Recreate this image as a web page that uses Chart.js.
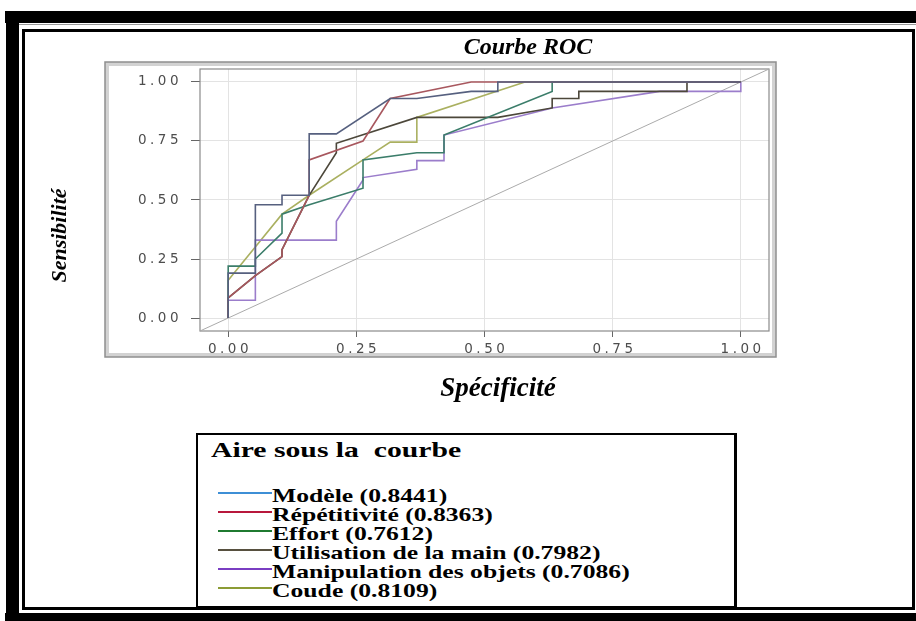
<!DOCTYPE html>
<html lang="fr">
<head>
<meta charset="utf-8">
<title>Courbe ROC</title>
<script src="https://cdn.jsdelivr.net/npm/chart.js@4.4.1/dist/chart.umd.min.js"></script>
<style>
  html, body { margin: 0; padding: 0; background: #fff; width: 916px; height: 621px; overflow: hidden; }
  .band { position: absolute; background: #000; }
  #inner { position: absolute; left: 22px; top: 29px; width: 887px; height: 575px; border: 3px solid #000; }
  #chartBox { position: absolute; left: 26px; top: 32px; width: 760px; height: 379px; }
  #legend { position: absolute; left: 196px; top: 433px; width: 536px; height: 171px;
            border: 2px solid #000; border-right-width: 3px; background: #fff; }
  #legendTitle { position: absolute; left: 211px; top: 438px; font: bold 22px/24px 'Liberation Serif', serif;
                 white-space: pre; transform: scaleX(1.35); transform-origin: 0 0; }
  #legendRows { position: absolute; left: 218px; top: 486px; font: bold 19px/19px 'Liberation Serif', serif;
                white-space: nowrap; transform: scaleX(1.35); transform-origin: 0 0; }
  .swatch { display: inline-block; width: 40px; height: 2px; vertical-align: 8px; }
</style>
</head>
<body>
<div class="band" style="left:5px;top:11px;width:911px;height:12px"></div>
<div class="band" style="left:6px;top:11px;width:13px;height:610px"></div>
<div class="band" style="left:5px;top:613px;width:911px;height:8px"></div>
<div class="band" style="left:19px;top:24px;width:897px;height:1px;background:#999"></div>
<div id="inner"></div>

<div id="chartBox"><canvas id="roc" width="760" height="379"></canvas></div>

<div id="legend"></div>
<div id="legendTitle">Aire sous la  courbe</div>
<div id="legendRows"></div>

<script>
// valeurs
const seriesNames = ['Modèle', 'Répétitivité', 'Effort', 'Utilisation de la main', 'Manipulation des objets', 'Coude'];
const aucValues = [0.8441, 0.8363, 0.7612, 0.7982, 0.7086, 0.8109];
const tickValues = [0, 0.25, 0.5, 0.75, 1];
const axisMin = -0.055;
const axisMax = 1.055;

// points (1 - specificite, sensibilite) de chaque courbe
const modeleX = [0, 0, 0.053, 0.053, 0.105, 0.105, 0.158, 0.158, 0.211, 0.316, 0.368, 0.474, 0.526, 0.526, 1];
const modeleY = [0, 0.19, 0.19, 0.48, 0.48, 0.52, 0.52, 0.78, 0.78, 0.93, 0.93, 0.96, 0.96, 1, 1];

const repetX = [0, 0, 0.053, 0.105, 0.105, 0.158, 0.158, 0.263, 0.316, 0.474, 1];
const repetY = [0, 0.085, 0.18, 0.26, 0.29, 0.52, 0.67, 0.75, 0.93, 1, 1];

const effortX = [0, 0, 0.053, 0.053, 0.105, 0.105, 0.158, 0.263, 0.263, 0.368, 0.421, 0.421, 0.632, 0.632, 1];
const effortY = [0, 0.22, 0.22, 0.25, 0.36, 0.44, 0.48, 0.55, 0.67, 0.70, 0.70, 0.775, 0.96, 1, 1];

const mainX = [0, 0, 0.053, 0.105, 0.105, 0.158, 0.211, 0.211, 0.368, 0.526, 0.632, 0.632, 0.684, 0.684, 0.895, 0.895, 1];
const mainY = [0, 0.085, 0.18, 0.26, 0.29, 0.52, 0.70, 0.74, 0.85, 0.85, 0.89, 0.93, 0.93, 0.96, 0.96, 1, 1];

const objetsX = [0, 0, 0.053, 0.053, 0.211, 0.211, 0.263, 0.263, 0.368, 0.368, 0.421, 0.421, 0.632, 0.842, 1, 1];
const objetsY = [0, 0.075, 0.075, 0.33, 0.33, 0.41, 0.585, 0.595, 0.63, 0.667, 0.667, 0.775, 0.89, 0.96, 0.96, 1];

const coudeX = [0, 0, 0.105, 0.158, 0.263, 0.316, 0.368, 0.368, 0.579, 1];
const coudeY = [0, 0.16, 0.44, 0.52, 0.67, 0.745, 0.745, 0.85, 1, 1];

const curvesX = [modeleX, repetX, effortX, mainX, objetsX, coudeX];
const curvesY = [modeleY, repetY, effortY, mainY, objetsY, coudeY];

// couleurs : legende et traces (les traces sont plus ternes sur la figure)
const legendColors = ['#3e8fd6', '#b8183c', '#1f7a30', '#57503f', '#7a3ec2', '#8c9c35'];
const lineColors = ['#56607f', '#a8575e', '#3b7d6a', '#4c473a', '#9b7dcb', '#aab060'];

// position des titres dans le canvas
const TITLE_CX = 502;
const XTITLE_DX = 13.5;
const YTITLE_DY = 35.5;

const datasets = seriesNames.map(function(name, i) {
    return {
        label: name + ' (' + aucValues[i].toFixed(4) + ')',
        data: curvesX[i].map((x, k) => ({ x: x, y: curvesY[i][k] })),
        borderColor: lineColors[i],
        borderWidth: 1.6,
        pointRadius: 0,
        tension: 0,
        fill: false,
        clip: false,
        order: i
    };
});

// diagonale de reference
datasets.push({
    label: 'diagonale',
    data: [{ x: axisMin, y: axisMin }, { x: axisMax, y: axisMax }],
    borderColor: '#ababab',
    borderWidth: 1,
    pointRadius: 0,
    fill: false,
    clip: false,
    order: 10
});

// cadre gris autour du graphique (image R)
const panelPlugin = {
    id: 'panel',
    beforeDraw(chart) {
        const { ctx, chartArea: a } = chart;
        const l = a.left - 95, t = a.top - 7, r = a.right + 7, b = a.bottom + 26;
        ctx.save();
        ctx.fillStyle = '#fff';
        ctx.fillRect(l, t, r - l, b - t);
        ctx.strokeStyle = '#d2d2d2';
        ctx.lineWidth = 4;
        ctx.strokeRect(l + 2, t + 2, r - l - 4, b - t - 4);
        ctx.strokeStyle = '#8f8f8f';
        ctx.lineWidth = 1.5;
        ctx.strokeRect(l, t, r - l, b - t);
        ctx.restore();
    },
    beforeDatasetsDraw(chart) {
        const { ctx, chartArea: a } = chart;
        ctx.save();
        ctx.strokeStyle = '#8a8a8a';
        ctx.lineWidth = 1.2;
        ctx.strokeRect(a.left, a.top, a.right - a.left, a.bottom - a.top);
        ctx.restore();
    }
};

// graduations espacees comme sur la figure etiree
const spacingPlugin = {
    id: 'tickSpacing',
    afterDatasetsDraw(chart) { chart.ctx.letterSpacing = '3.5px'; },
    afterDraw(chart) { chart.ctx.letterSpacing = '0px'; }
};

// decale les titres a leur place
const nudgePlugin = {
    id: 'nudge',
    afterLayout(chart) {
        const tb = chart.titleBlock;
        if (tb) {
            const dx = TITLE_CX - (tb.left + tb.right) / 2;
            tb.left += dx;
            tb.right += dx;
        }
        chart.scales.x.left += XTITLE_DX;
        chart.scales.x.right += XTITLE_DX;
        chart.scales.y.top += YTITLE_DY;
        chart.scales.y.bottom += YTITLE_DY;
    }
};

const tickFont = { family: 'DejaVu Sans', size: 13.5 };
const titleFont = (size) => ({ family: 'Liberation Serif', size: size, style: 'italic', weight: 'bold' });

new Chart(document.getElementById('roc'), {
    type: 'line',
    data: { datasets: datasets },
    options: {
        responsive: false,
        animation: false,
        layout: { padding: { left: 0, right: 17, top: 0, bottom: 0 } },
        plugins: {
            legend: { display: false },
            tooltip: { enabled: false },
            title: {
                display: true,
                text: 'Courbe ROC',
                color: '#000',
                font: titleFont(24),
                padding: { top: 1.6, bottom: 6.6 }
            }
        },
        scales: {
            x: {
                type: 'linear',
                min: axisMin,
                max: axisMax,
                afterBuildTicks: (s) => { s.ticks = tickValues.map(v => ({ value: v })); },
                afterFit: (s) => { s.height = 80; },
                grid: { color: '#e3e3e3', lineWidth: 1, tickLength: 6, tickColor: '#666' },
                border: { display: false },
                ticks: {
                    z: 1, padding: 4, labelOffset: 1.8, color: '#4d4d4d', font: tickFont,
                    maxRotation: 0, autoSkip: false,
                    callback: (v) => Number(v).toFixed(2)
                },
                title: {
                    display: true, text: 'Spécificité', color: '#000',
                    font: titleFont(27), padding: { top: 0, bottom: 6 }
                }
            },
            y: {
                type: 'linear',
                min: axisMin,
                max: axisMax,
                afterBuildTicks: (s) => { s.ticks = tickValues.map(v => ({ value: v })); },
                afterFit: (s) => { s.width = 174; },
                grid: { color: '#e3e3e3', lineWidth: 1, tickLength: 9, tickColor: '#666' },
                border: { display: false },
                ticks: {
                    z: 1, padding: 9, color: '#4d4d4d', font: tickFont,
                    callback: (v) => Number(v).toFixed(2)
                },
                title: {
                    display: true, text: 'Sensibilité', color: '#000',
                    font: titleFont(22), padding: { top: 20.8, bottom: 0 }
                }
            }
        }
    },
    plugins: [panelPlugin, spacingPlugin, nudgePlugin]
});

// legende (aire sous la courbe)
const legendRows = document.getElementById('legendRows');
seriesNames.forEach(function(name, i) {
    const row = document.createElement('div');
    const sw = document.createElement('span');
    sw.className = 'swatch';
    sw.style.background = legendColors[i];
    row.appendChild(sw);
    row.appendChild(document.createTextNode(name + ' (' + aucValues[i].toFixed(4) + ')'));
    legendRows.appendChild(row);
});
</script>
</body>
</html>
